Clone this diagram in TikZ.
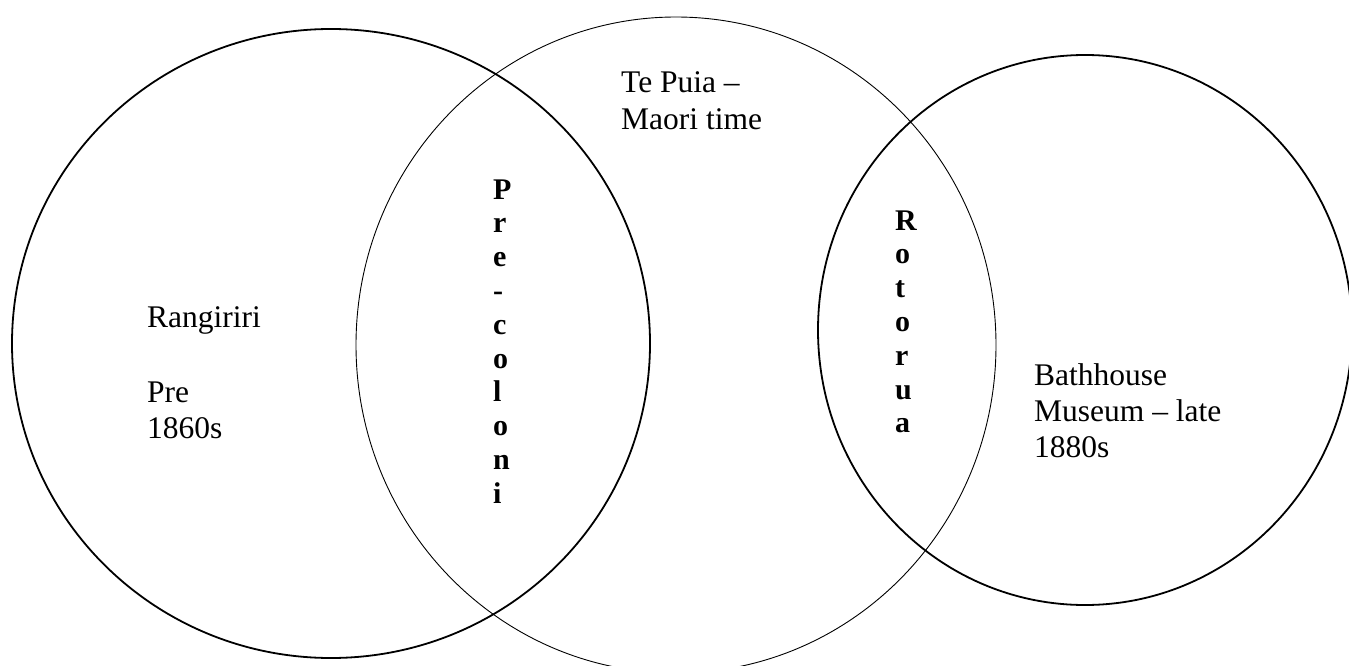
\documentclass[tikz,border=0pt]{standalone}
\usepackage{fontspec}
\setmainfont{Liberation Serif}
\begin{document}
\begin{tikzpicture}[x=1pt,y=-1pt,
  thickc/.style={line width=1.8pt},
  thinc/.style={line width=0.9pt},
  lbl/.style={anchor=base west, inner sep=0pt, font=\fontsize{31.5}{36}\selectfont},
  vlbl/.style={anchor=base west, inner sep=0pt, font=\bfseries\fontsize{30}{34}\selectfont}]
\useasboundingbox (0,0) rectangle (1349,666);
\clip (0,0) rectangle (1349,666);
% circles
\draw[thickc] (331,343.5) ellipse [x radius=319pt, y radius=314.5pt];
\draw[thinc] (676,345) ellipse [x radius=320pt, y radius=328pt];
\draw[thickc] (1085,330) ellipse [x radius=267pt, y radius=275pt];
% texts
\node[lbl] (tp1) at (621,93) {Te Puia –};
\node[lbl] (tp2) at (621,129.5) {Maori time};
\node[lbl] (rg1) at (147,327) {Rangiriri};
\node[lbl] (rg2) at (147,402) {Pre};
\node[lbl] (rg3) at (147,438) {1860s};
\node[lbl] (bh1) at (1034,385) {Bathhouse};
\node[lbl] (bh2) at (1034,421) {Museum – late};
\node[lbl] (bh3) at (1034,457) {1880s};
% vertical labels
\foreach \ch [count=\i from 0] in {P,r,e,-,c,o,l,o,n,i}
  \node[vlbl] (pc\i) at (493,{199+33.8*\i}) {\ch};
\foreach \ch [count=\i from 0] in {R,o,t,o,r,u,a}
  \node[vlbl] (ro\i) at (895,{230+33.8*\i}) {\ch};
\end{tikzpicture}
\end{document}
